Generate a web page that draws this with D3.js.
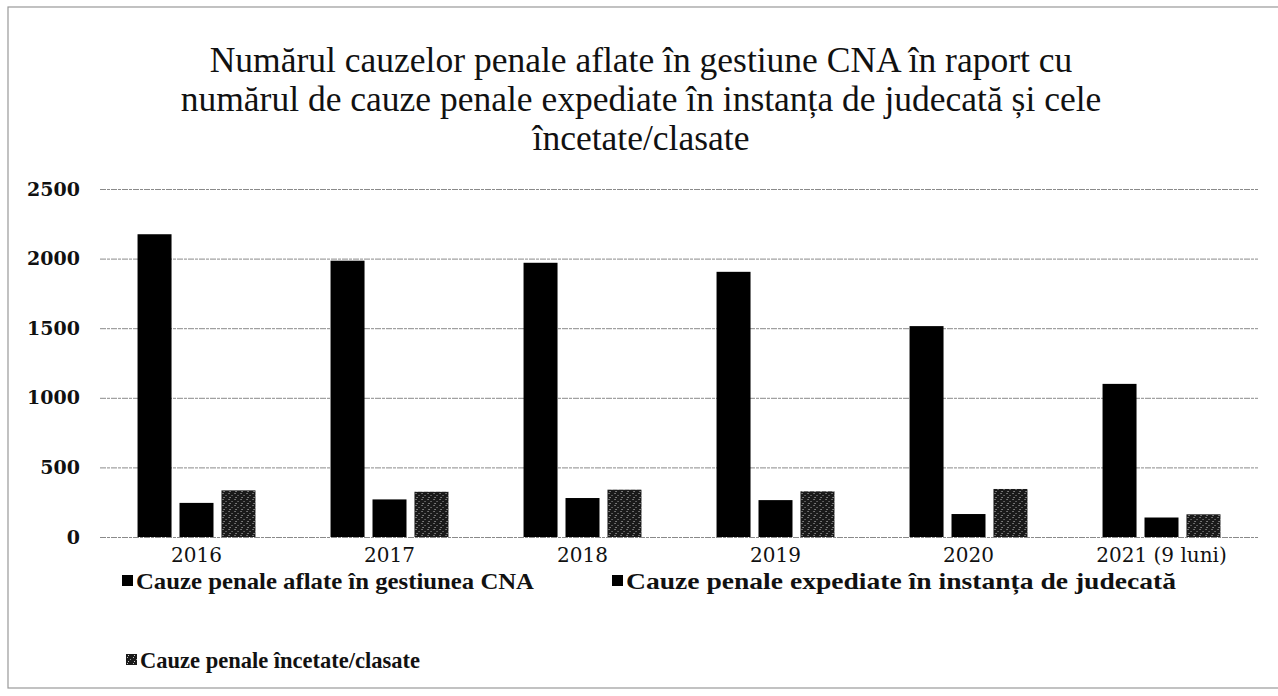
<!DOCTYPE html>
<html><head><meta charset="utf-8">
<script src="https://cdn.jsdelivr.net/npm/d3@7"></script>
<style>body{margin:0;background:#fff}</style>
</head><body>
<svg id="c" width="1278" height="696"></svg>
<script>
const categories = ["2016","2017","2018","2019","2020","2021 (9 luni)"];
const seriesNames = ["Cauze penale aflate în gestiunea CNA","Cauze penale expediate în instanța de judecată","Cauze penale încetate/clasate"];
const aflate = [2175, 1985, 1970, 1905, 1515, 1100];
const expediate = [245, 270, 280, 265, 165, 140];
const incetate = [335, 325, 340, 328, 345, 163];
const yTicks = [0, 500, 1000, 1500, 2000, 2500];
const titleLines = ["Numărul cauzelor penale aflate în gestiune CNA în raport cu","numărul de cauze penale expediate în instanța de judecată și cele","încetate/clasate"];

(function(){
const series = [aflate, expediate, incetate];
const svg = d3.select("#c");
const defs = svg.append("defs");
const pat = defs.append("pattern").attr("id","dots").attr("width",6).attr("height",6).attr("patternUnits","userSpaceOnUse");
pat.append("rect").attr("width",6).attr("height",6).attr("fill","#1a1a1a");
pat.append("rect").attr("x",1).attr("y",1).attr("width",1).attr("height",1).attr("fill","#bbb");
pat.append("rect").attr("x",4).attr("y",3).attr("width",1).attr("height",1).attr("fill","#999");
pat.append("rect").attr("x",2).attr("y",5).attr("width",1).attr("height",1).attr("fill","#ccc");
const fills = ["#000","#000","url(#dots)"];

// frame
svg.append("rect").attr("x",8).attr("y",7).attr("width",1300).attr("height",681)
  .attr("fill","none").attr("stroke","#999").attr("stroke-width",1.2);

// title
svg.append("g").selectAll("text").data(titleLines).join("text")
  .attr("x",641).attr("y",(d,i)=>72+i*39).attr("text-anchor","middle")
  .attr("font-family","Liberation Serif").attr("font-size",35.5).attr("fill","#111")
  .text(d=>d);

const mLeft=100, mRight=1258, mTop=189, mBottom=537;
const x = d3.scaleBand().domain(categories).range([mLeft,mRight]).paddingInner(0.389).paddingOuter(0.1945);
const xs = d3.scaleBand().domain(d3.range(3)).range([0,x.bandwidth()]).paddingInner(0.19);
const y = d3.scaleLinear().domain([0,2500]).range([mBottom,mTop]);

// gridlines
const yAxis = d3.axisLeft(y).tickValues(yTicks).tickSize(-(mRight-mLeft)).tickFormat(d3.format("d"));
const ga = svg.append("g").attr("transform",`translate(${mLeft},0)`).call(yAxis);
ga.select(".domain").remove();
ga.selectAll(".tick line").attr("stroke","#8a8a8a").attr("stroke-width",1).attr("stroke-dasharray","6,1,3,1");
ga.selectAll(".tick text").attr("x",-20).attr("font-family","DejaVu Serif").attr("font-weight","bold")
  .attr("font-size",19).attr("fill","#111");

// bars
const groups = svg.append("g").selectAll("g").data(categories).join("g")
  .attr("transform",d=>`translate(${x(d)},0)`);
groups.selectAll("rect").data((d,i)=>series.map((s,k)=>({k,v:s[i]}))).join("rect")
  .attr("x",d=>xs(d.k)).attr("width",xs.bandwidth())
  .attr("y",d=>y(d.v)).attr("height",d=>y(0)-y(d.v))
  .attr("fill",d=>fills[d.k]);

// x axis labels
const xAxis = d3.axisBottom(x).tickSize(0).tickPadding(11);
const gx = svg.append("g").attr("transform",`translate(0,${mBottom})`).call(xAxis);
gx.select(".domain").remove();
gx.selectAll(".tick text").attr("font-family","DejaVu Serif").attr("font-size",20).attr("fill","#111");

// legend
const legendPos = [[122,589],[612,589],[126,668]];
const legendLen = [398, 550, 280];
const lg = svg.append("g").selectAll("g").data(seriesNames).join("g")
  .attr("transform",(d,i)=>`translate(${legendPos[i][0]},${legendPos[i][1]})`);
lg.append("rect").attr("x",0).attr("y",-14).attr("width",11).attr("height",11).attr("fill",(d,i)=>fills[i]);
lg.append("text").attr("x",14).attr("y",0).attr("font-family","Liberation Serif").attr("font-weight","bold")
  .attr("font-size",23).attr("fill","#111")
  .attr("textLength",(d,i)=>legendLen[i]).attr("lengthAdjust","spacingAndGlyphs").text(d=>d);
})();
</script>
</body></html>
